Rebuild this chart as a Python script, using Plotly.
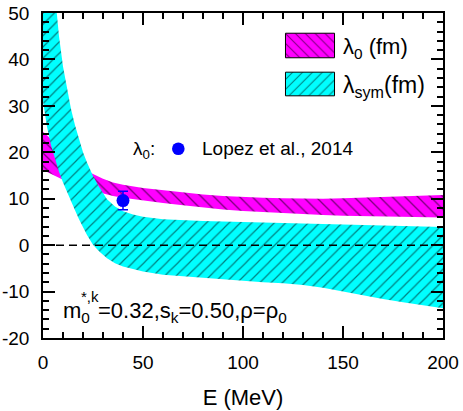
import plotly.graph_objects as go

# lambda_0 band (magenta)
e_lam0 = [0, 5, 10, 15, 20, 25, 30, 35, 40, 50, 60, 70, 80, 90, 100,
          110, 120, 130, 140, 150, 160, 170, 180, 190, 200]
lam0_hi = [24.4, 22.4, 20.4, 18.4, 16.6, 15.3, 14.3, 13.5, 13.0, 12.3, 11.8, 11.3, 10.9, 10.6, 10.35,
           10.2, 10.1, 10.0, 10.0, 10.1, 10.25, 10.4, 10.55, 10.7, 10.8]
lam0_lo = [16.2, 15.2, 14.1, 13.1, 12.3, 11.7, 11.1, 10.6, 10.2, 9.6, 9.1, 8.6, 8.1, 7.7, 7.35,
           7.1, 6.9, 6.7, 6.5, 6.35, 6.25, 6.15, 6.05, 6.0, 5.95]

# lambda_sym band (cyan)
e_sym = [0, 2, 4, 6, 8, 10, 12, 14, 16, 18, 20, 22, 25, 28, 32, 36, 40, 45, 50,
         60, 70, 80, 90, 100, 110, 120, 130, 140, 150, 160, 170, 180, 190, 200]
sym_hi = [85, 72, 62, 54, 45, 38.5, 33.5, 29.3, 25.8, 22.7, 20.0, 17.8, 14.9, 12.6, 9.9, 8.3, 7.3, 6.6, 6.1,
          5.6, 5.35, 5.2, 5.1, 5.0, 4.9, 4.8, 4.7, 4.6, 4.5, 4.4, 4.3, 4.2, 4.05, 3.9]
sym_lo = [31, 25.5, 21.5, 18.5, 15.8, 13.5, 11.3, 9.5, 7.5, 5.6, 3.8, 2.2, 0.1, -1.3, -2.8, -3.9, -4.6, -5.2, -5.7,
          -6.35, -6.8, -7.1, -7.4, -7.7, -8.0, -8.2, -8.6, -9.2, -9.9, -10.8, -11.6, -12.3, -13.0, -13.6]

# Lopez et al., 2014
lopez_e = [40]
lopez_val = [9.6]
lopez_err = [2.0]

x_ticks = [0, 50, 100, 150, 200]
y_ticks = [-20, -10, 0, 10, 20, 30, 40, 50]
y_labels = ["-20", "-10", "0", "10", "20", "30", "40", "50"]

FONT = "Arial, Liberation Sans, sans-serif"
MAGENTA = "#ff00ff"
CYAN = "#00ffff"

# plot area in pixels (463x411 page)
L, R, T, B = 43, 443, 13, 338


def px(x):
    return (x - L) / (R - L)


def py(y):
    return (B - y) / (B - T)


def band(e, hi, lo):
    return list(e) + list(e[::-1]), list(hi) + list(lo[::-1])


fig = go.Figure()

bx, by = band(e_lam0, lam0_hi, lam0_lo)
fig.add_trace(go.Scatter(
    x=bx, y=by, fill="toself", mode="lines", line=dict(width=0),
    fillcolor=MAGENTA,
    fillpattern=dict(shape="\\", fgcolor="black", bgcolor=MAGENTA, size=9, solidity=0.15),
    hoverinfo="skip", showlegend=False
))

bx, by = band(e_sym, sym_hi, sym_lo)
fig.add_trace(go.Scatter(
    x=bx, y=by, fill="toself", mode="lines", line=dict(width=0),
    fillcolor=CYAN,
    fillpattern=dict(shape="/", fgcolor="black", bgcolor=CYAN, size=8, solidity=0.15),
    hoverinfo="skip", showlegend=False
))

fig.add_trace(go.Scatter(
    x=lopez_e, y=lopez_val, mode="markers",
    marker=dict(color="#0000ff", size=13),
    error_y=dict(type="data", array=lopez_err, color="#0000ff", thickness=1.5, width=5),
    showlegend=False
))

# legend swatches, each in its own little unit axis
unit_x = [0, 1, 1, 0, 0]
unit_y = [0, 0, 1, 1, 0]
for yax, col, shp, size in [("y2", MAGENTA, "\\", 7), ("y3", CYAN, "/", 7)]:
    fig.add_trace(go.Scatter(
        x=unit_x, y=unit_y, xaxis="x2", yaxis=yax, fill="toself", mode="lines",
        line=dict(color="black", width=1), fillcolor=col,
        fillpattern=dict(shape=shp, fgcolor="black", bgcolor=col, size=size, solidity=0.15),
        hoverinfo="skip", showlegend=False
    ))

axis_common = dict(
    showline=True, linecolor="black", linewidth=1.5, mirror="ticks",
    ticks="inside", ticklen=12, tickwidth=1.5, tickcolor="black",
    showgrid=False, zeroline=False, automargin=False,
    tickfont=dict(family=FONT, size=19, color="black"),
)

fig.update_layout(
    width=463, height=411,
    margin=dict(l=L, r=463 - R, t=T, b=411 - B, autoexpand=False),
    plot_bgcolor="white", paper_bgcolor="white",
    xaxis=dict(
        range=[0, 200], tickvals=x_ticks,
        minor=dict(dtick=10, ticks="inside", ticklen=6, tickwidth=1.5, tickcolor="black"),
        title=dict(text="E (MeV)", font=dict(family=FONT, size=22, color="black"), standoff=18),
        ticklabelstandoff=6,
        **axis_common
    ),
    yaxis=dict(
        range=[-20, 50], tickvals=y_ticks, ticktext=y_labels,
        minor=dict(dtick=2, ticks="inside", ticklen=6, tickwidth=1.5, tickcolor="black"),
        ticklabelstandoff=8,
        **axis_common
    ),
    xaxis2=dict(domain=[px(284), px(336)], range=[-0.03, 1.03], visible=False, anchor="y2"),
    yaxis2=dict(domain=[py(59), py(32)], range=[-0.05, 1.05], visible=False, anchor="x2"),
    yaxis3=dict(domain=[py(97), py(71)], range=[-0.05, 1.05], visible=False, anchor="x2"),
    shapes=[
        dict(type="line", xref="x domain", yref="y", x0=0, x1=1, y0=0, y1=0,
             line=dict(color="black", width=1.5, dash="8px,5px"), layer="above"),
        dict(type="circle", xref="paper", yref="paper",
             xsizemode="pixel", ysizemode="pixel",
             xanchor=px(178.3), yanchor=py(148.8),
             x0=-6.3, x1=6.3, y0=-6.3, y1=6.3,
             fillcolor="#0000ff", line=dict(width=0)),
    ],
)

ann_font = dict(family=FONT, color="black")
annotations = [
    dict(text="λ<sub>0</sub> (fm)", x=px(341), y=py(48), size=22),
    dict(text="λ<sub>sym</sub>(fm)", x=px(341), y=py(87), size=23),
    dict(text="λ<sub>0</sub>:", x=px(131), y=py(150), size=19),
    dict(text="Lopez et al., 2014", x=px(200), y=py(148), size=19),
    dict(text="m<sub>0</sub>", x=px(61), y=py(312), size=22),
    dict(text="*,k", x=px(79), y=py(296), size=15),
    dict(text="=0.32,s<sub>k</sub>=0.50,ρ=ρ<sub>0</sub>", x=px(96), y=py(312), size=22),
]
for a in annotations:
    fig.add_annotation(
        text=a["text"], x=a["x"], y=a["y"], xref="paper", yref="paper",
        xanchor="left", yanchor="middle", showarrow=False,
        font=dict(size=a["size"], **ann_font)
    )

# the page's default 8px body margin would shift the figure off the 463x411 window
fig.write_html("out.html", config={"displayModeBar": False},
               post_script="document.body.style.margin = '0px';")
